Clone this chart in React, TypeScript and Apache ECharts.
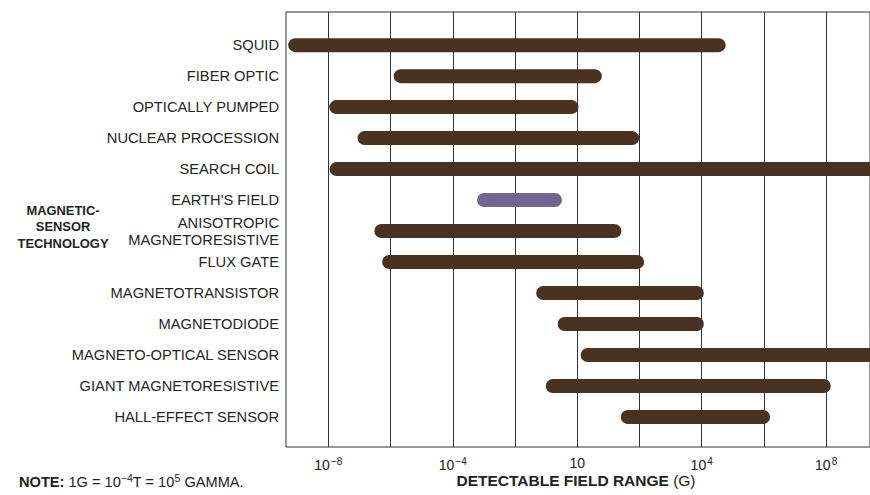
import React, { useEffect, useRef } from "react";
import * as echarts from "echarts";

// Sensor technologies, top to bottom
const categories = [
  "SQUID",
  "FIBER OPTIC",
  "OPTICALLY PUMPED",
  "NUCLEAR PROCESSION",
  "SEARCH COIL",
  "EARTH'S FIELD",
  "ANISOTROPIC\nMAGNETORESISTIVE",
  "FLUX GATE",
  "MAGNETOTRANSISTOR",
  "MAGNETODIODE",
  "MAGNETO-OPTICAL SENSOR",
  "GIANT MAGNETORESISTIVE",
  "HALL-EFFECT SENSOR",
];
// Detectable range, as log10 exponent positions on the chart's axis
const rangeStart = [-9.29, -5.9, -7.97, -7.06, -7.96, -3.22, -6.52, -6.27, -1.32, -0.63, 0.11, -1.01, 1.4];
const rangeEnd = [4.77, 0.79, 0.04, 1.99, 9.8, -0.49, 1.42, 2.15, 4.07, 4.07, 9.8, 8.15, 6.2];
const highlighted = [false, false, false, false, false, true, false, false, false, false, false, false, false];
// Vertical grid lines and tick labels
const gridValues = [-8, -6, -4, -2, 0, 2, 4, 6, 8];
const tickValues = [-8, -4, 0, 4, 8];
const tickLabels = ["10{s|−8}", "10{s|−4}", "10", "10{s|4}", "10{s|8}"];
const rowIndex = categories.map((_, i) => i);

export default function App() {
  const ref = useRef<HTMLDivElement>(null);
  useEffect(() => {
    if (!ref.current) return;
    const chart = echarts.init(ref.current, null, { renderer: "svg" });
    const font = "'Liberation Sans', Arial, sans-serif";
    const data = categories.map((c, i) => [rangeStart[i], rangeEnd[i], i, highlighted[i] ? 1 : 0]);
    chart.setOption({
      animation: false,
      backgroundColor: "#ffffff",
      textStyle: { fontFamily: font },
      grid: {
        left: 286,
        right: -1,
        top: 12,
        height: 435,
        show: true,
        borderColor: "#333",
        borderWidth: 1,
        containLabel: false,
      },
      xAxis: {
        type: "value",
        min: -9.36,
        max: 9.41,
        axisLine: { show: false },
        axisTick: { show: false },
        splitLine: { show: false },
        axisLabel: {
          customValues: tickValues,
          margin: 9,
          color: "#222",
          fontSize: 14,
          fontFamily: font,
          formatter: (v: number) => {
            const idx = tickValues.indexOf(Math.round(v));
            return idx >= 0 ? tickLabels[idx] : "";
          },
          rich: {
            s: { fontSize: 10, padding: [0, 0, 8, 1], color: "#222", fontFamily: font },
          },
        },
      },
      yAxis: {
        type: "value",
        inverse: true,
        min: -1.07,
        max: 12.97,
        axisLine: { show: true, lineStyle: { color: "#333", width: 1 } },
        axisTick: { show: false },
        splitLine: { show: false },
        axisLabel: {
          customValues: rowIndex,
          margin: 7,
          color: "#262626",
          fontSize: 14.7,
          fontFamily: font,
          lineHeight: 17,
          align: "right",
          formatter: (v: number) => {
            const i = Math.round(v);
            return i >= 0 && i < categories.length ? categories[i] : "";
          },
        },
      },
      series: [
        {
          type: "custom",
          clip: true,
          data,
          encode: { x: [0, 1], y: 2 },
          renderItem: (params: any, api: any) => {
            const s = api.coord([api.value(0), api.value(2)]);
            const e = api.coord([api.value(1), api.value(2)]);
            const h = 14;
            const hl = api.value(3) === 1;
            return {
              type: "rect",
              shape: { x: s[0], y: s[1] - h / 2, width: e[0] - s[0], height: h, r: h / 2 },
              clipPath: {
                type: "rect",
                shape: {
                  x: params.coordSys.x,
                  y: params.coordSys.y,
                  width: params.coordSys.width,
                  height: params.coordSys.height,
                },
              },
              style: { fill: hl ? "#6f6792" : "#4a3222" },
            };
          },
          markLine: {
            silent: true,
            symbol: "none",
            label: { show: false },
            lineStyle: { color: "#333", width: 1, type: "solid" },
            data: gridValues.map((v) => ({ xAxis: v })),
            z: 1,
          },
          z: 3,
        },
      ],
      graphic: [
        {
          type: "text",
          x: 63,
          y: 202,
          style: {
            text: "MAGNETIC-\nSENSOR\nTECHNOLOGY",
            fontFamily: font,
            fontSize: 12.9,
            fontWeight: "bold",
            lineHeight: 16.5,
            fill: "#222",
            align: "center",
          },
        },
        {
          type: "text",
          x: 19,
          y: 472,
          style: {
            text: "{b|NOTE:} 1G = 10{s|−4}T = 10{s|5} GAMMA.",
            fontFamily: font,
            fontSize: 14.6,
            fill: "#222",
            rich: {
              b: { fontWeight: "bold", fontSize: 14.6, fontFamily: font, fill: "#222" },
              s: { fontSize: 10.5, padding: [0, 0, 8, 0], fontFamily: font, fill: "#222" },
            },
          },
        },
        {
          type: "text",
          x: 576,
          y: 472,
          style: {
            text: "{b|DETECTABLE FIELD RANGE} (G)",
            fontFamily: font,
            fontSize: 15.5,
            fill: "#222",
            align: "center",
            rich: {
              b: { fontWeight: "bold", fontSize: 15.5, fontFamily: font, fill: "#222" },
            },
          },
        },
      ],
    });
    return () => chart.dispose();
  }, []);
  return (
    <div
      ref={ref}
      style={{ position: "absolute", left: 0, top: 0, width: 870, height: 495, background: "#fff" }}
    />
  );
}
